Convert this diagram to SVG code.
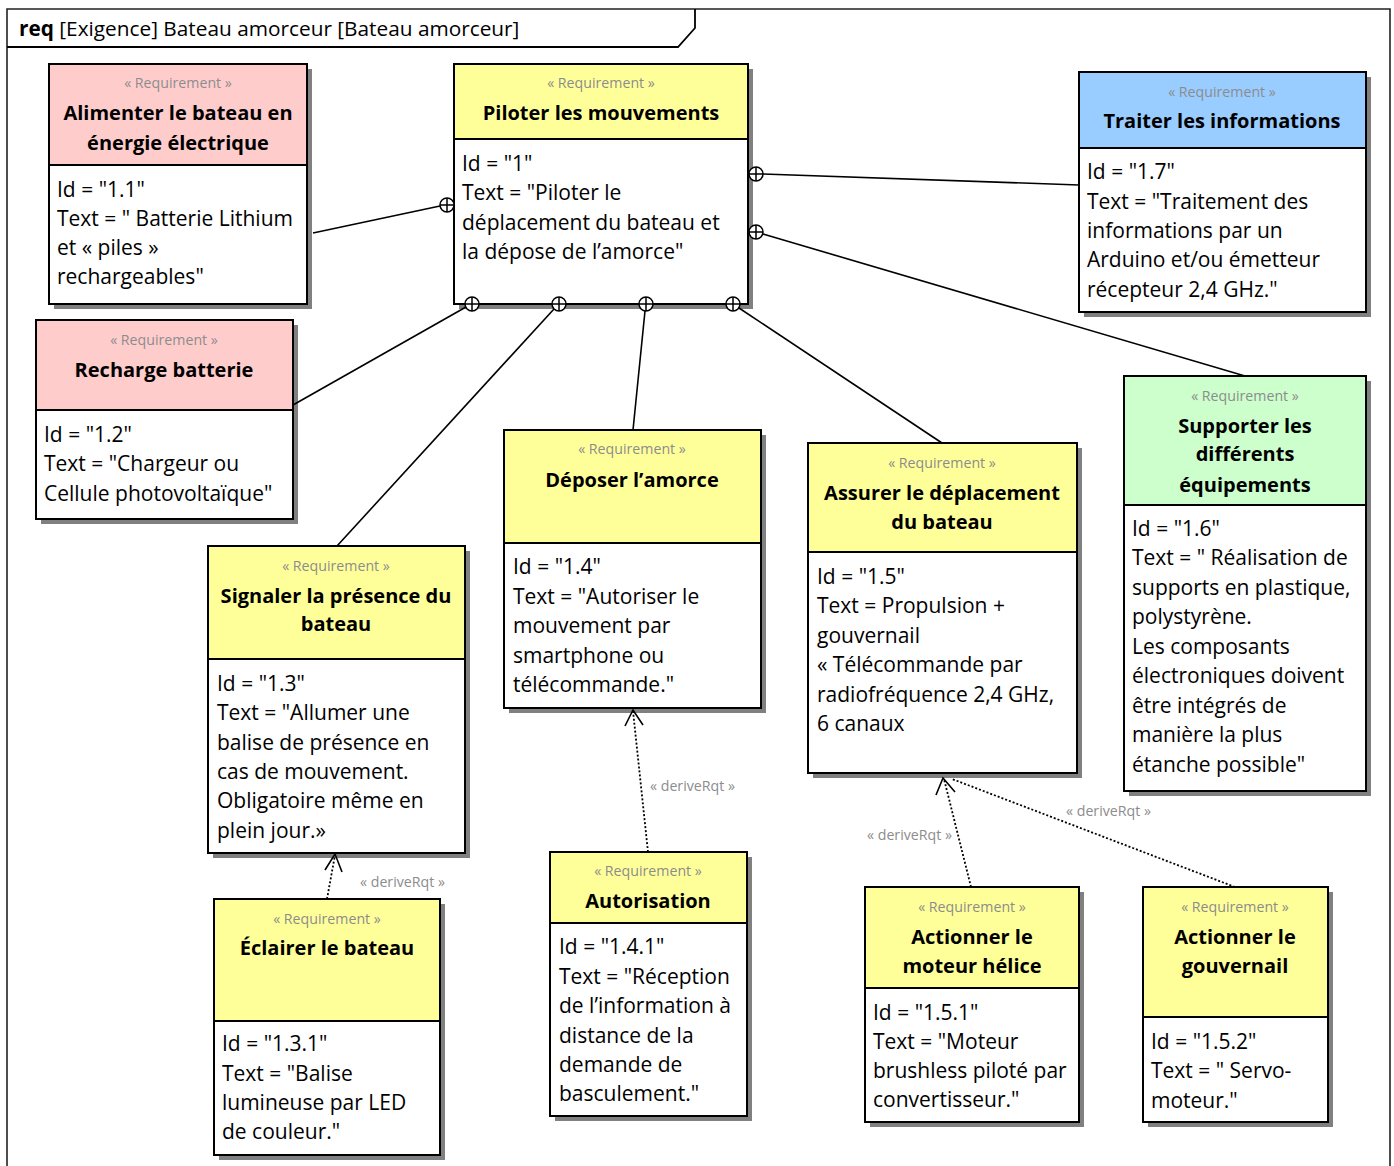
<svg xmlns="http://www.w3.org/2000/svg" width="1394" height="1166" viewBox="0 0 1394 1166">
<style>
text{font-family:"Open Sans","Noto Sans","Liberation Sans",sans-serif;dominant-baseline:central}
.st{font-size:14.2px;fill:#8c8c8c;text-anchor:middle}
.ti{font-size:20px;font-weight:bold;fill:#000;text-anchor:middle}
.bd{font-size:21px;fill:#000}
.lb{font-size:14.2px;fill:#8c8c8c}
.box{stroke:#000;stroke-width:2}
.sh{fill:#808080}
.con{stroke:#000;stroke-width:1.6;fill:none}
.der{stroke:#000;stroke-width:1.8;fill:none;stroke-dasharray:2 2}
.arr{stroke:#000;stroke-width:1.6;fill:none}
.cir{stroke:#000;stroke-width:1.5;fill:#fff}
</style>
<defs>
<g id="plus"><circle r="7" class="cir"/><path d="M-7 0H7M0 -7V7" stroke="#000" stroke-width="1.5"/></g>
</defs>
<rect width="1394" height="1166" fill="#fff"/>
<g id="frame">
<path d="M7 1166V9H1390V1166" fill="none" stroke="#222" stroke-width="1.6"/>
<path d="M7 47H678L695 28V9" fill="none" stroke="#000" stroke-width="1.8"/>
<text x="19" y="28" style="font-size:20.8px"><tspan font-weight="bold">req</tspan> [Exigence] Bateau amorceur [Bateau amorceur]</text>
</g>
<g id="n1">
<rect class="sh" x="54" y="69" width="258" height="240"/>
<rect class="box" x="49" y="64" width="258" height="101" fill="#ffcccc"/>
<rect class="box" x="49" y="165" width="258" height="139" fill="#fff"/>
<text class="st" x="178" y="82">« Requirement »</text>
<text class="ti" x="178" y="112">Alimenter le bateau en</text>
<text class="ti" x="178" y="142">énergie électrique</text>
<text class="bd" x="57" y="189">Id = "1.1"</text>
<text class="bd" x="57" y="218">Text = " Batterie Lithium</text>
<text class="bd" x="57" y="247">et « piles »</text>
<text class="bd" x="57" y="276">rechargeables"</text>
</g>
<g id="n1_0">
<rect class="sh" x="459" y="69" width="294" height="240"/>
<rect class="box" x="454" y="64" width="294" height="75" fill="#ffff99"/>
<rect class="box" x="454" y="139" width="294" height="165" fill="#fff"/>
<text class="st" x="601" y="82">« Requirement »</text>
<text class="ti" x="601" y="112">Piloter les mouvements</text>
<text class="bd" x="462" y="163">Id = "1"</text>
<text class="bd" x="462" y="192">Text = "Piloter le</text>
<text class="bd" x="462" y="222">déplacement du bateau et</text>
<text class="bd" x="462" y="251">la dépose de l’amorce"</text>
</g>
<g id="n1_7">
<rect class="sh" x="1084" y="77" width="287" height="240"/>
<rect class="box" x="1079" y="72" width="287" height="76" fill="#99ccff"/>
<rect class="box" x="1079" y="148" width="287" height="164" fill="#fff"/>
<text class="st" x="1222" y="91">« Requirement »</text>
<text class="ti" x="1222" y="120">Traiter les informations</text>
<text class="bd" x="1087" y="171">Id = "1.7"</text>
<text class="bd" x="1087" y="201">Text = "Traitement des</text>
<text class="bd" x="1087" y="230">informations par un</text>
<text class="bd" x="1087" y="259">Arduino et/ou émetteur</text>
<text class="bd" x="1087" y="289">récepteur 2,4 GHz."</text>
</g>
<g id="n1_2">
<rect class="sh" x="41" y="325" width="257" height="199"/>
<rect class="box" x="36" y="320" width="257" height="90" fill="#ffcccc"/>
<rect class="box" x="36" y="410" width="257" height="109" fill="#fff"/>
<text class="st" x="164" y="339">« Requirement »</text>
<text class="ti" x="164" y="369">Recharge batterie</text>
<text class="bd" x="44" y="434">Id = "1.2"</text>
<text class="bd" x="44" y="463">Text = "Chargeur ou</text>
<text class="bd" x="44" y="493">Cellule photovoltaïque"</text>
</g>
<g id="n1_3">
<rect class="sh" x="213" y="551" width="257" height="307"/>
<rect class="box" x="208" y="546" width="257" height="113" fill="#ffff99"/>
<rect class="box" x="208" y="659" width="257" height="194" fill="#fff"/>
<text class="st" x="336" y="565">« Requirement »</text>
<text class="ti" x="336" y="595">Signaler la présence du</text>
<text class="ti" x="336" y="623">bateau</text>
<text class="bd" x="217" y="683">Id = "1.3"</text>
<text class="bd" x="217" y="712">Text = "Allumer une</text>
<text class="bd" x="217" y="742">balise de présence en</text>
<text class="bd" x="217" y="771">cas de mouvement.</text>
<text class="bd" x="217" y="800">Obligatoire même en</text>
<text class="bd" x="217" y="830">plein jour.»</text>
</g>
<g id="n1_4">
<rect class="sh" x="509" y="435" width="257" height="278"/>
<rect class="box" x="504" y="430" width="257" height="113" fill="#ffff99"/>
<rect class="box" x="504" y="543" width="257" height="165" fill="#fff"/>
<text class="st" x="632" y="448">« Requirement »</text>
<text class="ti" x="632" y="479">Déposer l’amorce</text>
<text class="bd" x="513" y="566">Id = "1.4"</text>
<text class="bd" x="513" y="596">Text = "Autoriser le</text>
<text class="bd" x="513" y="625">mouvement par</text>
<text class="bd" x="513" y="655">smartphone ou</text>
<text class="bd" x="513" y="684">télécommande."</text>
</g>
<g id="n1_5">
<rect class="sh" x="813" y="448" width="269" height="330"/>
<rect class="box" x="808" y="443" width="269" height="109" fill="#ffff99"/>
<rect class="box" x="808" y="552" width="269" height="221" fill="#fff"/>
<text class="st" x="942" y="462">« Requirement »</text>
<text class="ti" x="942" y="492">Assurer le déplacement</text>
<text class="ti" x="942" y="521">du bateau</text>
<text class="bd" x="817" y="576">Id = "1.5"</text>
<text class="bd" x="817" y="605">Text = Propulsion +</text>
<text class="bd" x="817" y="635">gouvernail</text>
<text class="bd" x="817" y="664">« Télécommande par</text>
<text class="bd" x="817" y="694">radiofréquence 2,4 GHz,</text>
<text class="bd" x="817" y="723">6 canaux</text>
</g>
<g id="n1_6">
<rect class="sh" x="1129" y="381" width="242" height="415"/>
<rect class="box" x="1124" y="376" width="242" height="129" fill="#ccffcc"/>
<rect class="box" x="1124" y="505" width="242" height="286" fill="#fff"/>
<text class="st" x="1245" y="395">« Requirement »</text>
<text class="ti" x="1245" y="425">Supporter les</text>
<text class="ti" x="1245" y="453">différents</text>
<text class="ti" x="1245" y="484">équipements</text>
<text class="bd" x="1132" y="528">Id = "1.6"</text>
<text class="bd" x="1132" y="557">Text = " Réalisation de</text>
<text class="bd" x="1132" y="587">supports en plastique,</text>
<text class="bd" x="1132" y="616">polystyrène.</text>
<text class="bd" x="1132" y="646">Les composants</text>
<text class="bd" x="1132" y="675">électroniques doivent</text>
<text class="bd" x="1132" y="705">être intégrés de</text>
<text class="bd" x="1132" y="734">manière la plus</text>
<text class="bd" x="1132" y="764">étanche possible"</text>
</g>
<g id="n1_3_1">
<rect class="sh" x="219" y="904" width="226" height="256"/>
<rect class="box" x="214" y="899" width="226" height="122" fill="#ffff99"/>
<rect class="box" x="214" y="1021" width="226" height="134" fill="#fff"/>
<text class="st" x="327" y="918">« Requirement »</text>
<text class="ti" x="327" y="947">Éclairer le bateau</text>
<text class="bd" x="222" y="1043">Id = "1.3.1"</text>
<text class="bd" x="222" y="1073">Text = "Balise</text>
<text class="bd" x="222" y="1102">lumineuse par LED</text>
<text class="bd" x="222" y="1131">de couleur."</text>
</g>
<g id="n1_4_1">
<rect class="sh" x="555" y="857" width="197" height="264"/>
<rect class="box" x="550" y="852" width="197" height="71" fill="#ffff99"/>
<rect class="box" x="550" y="923" width="197" height="193" fill="#fff"/>
<text class="st" x="648" y="870">« Requirement »</text>
<text class="ti" x="648" y="900">Autorisation</text>
<text class="bd" x="559" y="946">Id = "1.4.1"</text>
<text class="bd" x="559" y="976">Text = "Réception</text>
<text class="bd" x="559" y="1005">de l’information à</text>
<text class="bd" x="559" y="1035">distance de la</text>
<text class="bd" x="559" y="1064">demande de</text>
<text class="bd" x="559" y="1093">basculement."</text>
</g>
<g id="n1_5_1">
<rect class="sh" x="870" y="892" width="214" height="235"/>
<rect class="box" x="865" y="887" width="214" height="101" fill="#ffff99"/>
<rect class="box" x="865" y="988" width="214" height="134" fill="#fff"/>
<text class="st" x="972" y="906">« Requirement »</text>
<text class="ti" x="972" y="936">Actionner le</text>
<text class="ti" x="972" y="965">moteur hélice</text>
<text class="bd" x="873" y="1012">Id = "1.5.1"</text>
<text class="bd" x="873" y="1041">Text = "Moteur</text>
<text class="bd" x="873" y="1070">brushless piloté par</text>
<text class="bd" x="873" y="1099">convertisseur."</text>
</g>
<g id="n1_5_2">
<rect class="sh" x="1148" y="892" width="185" height="235"/>
<rect class="box" x="1143" y="887" width="185" height="130" fill="#ffff99"/>
<rect class="box" x="1143" y="1017" width="185" height="105" fill="#fff"/>
<text class="st" x="1235" y="906">« Requirement »</text>
<text class="ti" x="1235" y="936">Actionner le</text>
<text class="ti" x="1235" y="965">gouvernail</text>
<text class="bd" x="1151" y="1041">Id = "1.5.2"</text>
<text class="bd" x="1151" y="1070">Text = " Servo-</text>
<text class="bd" x="1151" y="1100">moteur."</text>
</g>
<g id="connectors">
<path class="con" d="M313 233L440 206"/>
<path class="con" d="M763 174L1079 185"/>
<path class="con" d="M763 234L1245 376"/>
<path class="con" d="M293 405L466 307"/>
<path class="con" d="M337 546L554 309"/>
<path class="con" d="M633 430L645 311"/>
<path class="con" d="M942 443L739 308"/>
<use href="#plus" x="447" y="205"/>
<use href="#plus" x="756" y="174"/>
<use href="#plus" x="756" y="232"/>
<use href="#plus" x="472" y="304"/>
<use href="#plus" x="559" y="304"/>
<use href="#plus" x="646" y="304"/>
<use href="#plus" x="733" y="304"/>
<path class="der" d="M327 899L335 855"/>
<path class="arr" d="M325 870L335 854L342 872"/>
<text class="lb" x="360" y="881">« deriveRqt »</text>
<path class="der" d="M648 852L633 711"/>
<path class="arr" d="M625 726L633 710L643 725"/>
<text class="lb" x="650" y="785">« deriveRqt »</text>
<path class="der" d="M971 887L944 779"/>
<path class="arr" d="M936 795L943 778L955 792"/>
<text class="lb" x="867" y="834">« deriveRqt »</text>
<path class="der" d="M1235 887L952 779"/>
<text class="lb" x="1066" y="810">« deriveRqt »</text>
</g>
</svg>
